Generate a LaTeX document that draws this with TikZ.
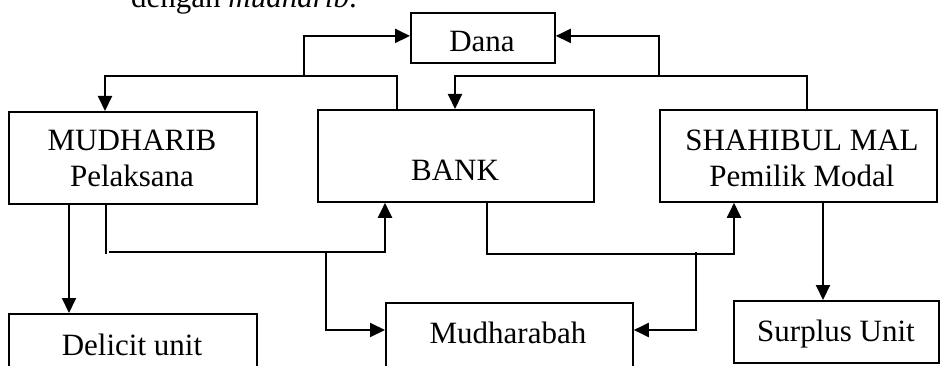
\documentclass[tikz,border=0pt]{standalone}
\usepackage{fontspec}
\setmainfont{Liberation Serif}
\usetikzlibrary{arrows.meta}
\begin{document}
\begin{tikzpicture}[x=1pt,y=-1pt,
 box/.style={draw, line width=1.8pt, inner sep=0pt, anchor=north west},
 conn/.style={line width=2pt},
 arr/.style={conn, -{Triangle[length=15pt,width=14pt]}},
 lbl/.style={font=\fontsize{31}{36}\selectfont, anchor=base, inner sep=0pt}]
\useasboundingbox (0,0) rectangle (941,366);
\clip (0,0) rectangle (941,366);
% boxes
\node[box, minimum width=144pt, minimum height=50pt] (dana) at (410,12) {};
\node[box, minimum width=248pt, minimum height=92pt] (mud) at (8,111) {};
\node[box, minimum width=276pt, minimum height=92pt] (bank) at (317,109) {};
\node[box, minimum width=277pt, minimum height=92pt] (shah) at (659,109) {};
\node[box, minimum width=248pt, minimum height=80pt] (del) at (8,313) {};
\node[box, minimum width=247pt, minimum height=90pt] (mudh) at (385,302) {};
\node[box, minimum width=205pt, minimum height=62pt] (sur) at (733,300) {};
% texts
\node[lbl] (thead) at (244,8) {dengan \textit{mudharib}.};
\node[lbl] (tdana) at (482,52) {Dana};
\node[lbl] (t1) at (132,150) {MUDHARIB};
\node[lbl] (t2) at (132,186) {Pelaksana};
\node[lbl] (tbank) at (455,180) {BANK};
\node[lbl] (t3) at (802,150) {SHAHIBUL MAL};
\node[lbl] (t4) at (802,186) {Pemilik Modal};
\node[lbl] (tdel) at (132,355) {Delicit unit};
\node[lbl] (tmudh) at (508,343) {Mudharabah};
\node[lbl] (tsur) at (836,341) {Surplus Unit};
% junctions
\coordinate (j1) at (304,76);
\coordinate (j2) at (659,76);
\coordinate (j3) at (109,252);
\coordinate (j4) at (326,252);
\coordinate (j5) at (696,252);
% top connectors
\draw[arr] ([xshift=80pt]bank.north west) -- ++(0,-33) -| ([xshift=97pt]mud.north west);
\draw[arr] (j1) |- ([yshift=2pt]dana.west);
\draw[arr] ([xshift=148pt]shah.north west) -- ++(0,-33) -| ([xshift=138pt]bank.north west);
\draw[arr] (j2) |- ([yshift=2pt]dana.east);
% bottom connectors
\draw[conn] ([xshift=98pt]mud.south west) -- ++(0,49);
\draw[arr] (j3) -| ([xshift=68pt]bank.south west);
\draw[arr] (j4) |- ([yshift=-28pt]mudh.north west);
\draw[arr] ([xshift=170pt]bank.south west) -- ++(0,51) -| ([xshift=75pt]shah.south west);
\draw[arr] (j5) |- ([yshift=-28pt]mudh.north east);
\draw[arr] ([xshift=61pt]mud.south west) -- ([xshift=61pt]del.north west);
\draw[arr] ([xshift=164pt]shah.south west) -- ([xshift=90pt]sur.north west);
\end{tikzpicture}
\end{document}
